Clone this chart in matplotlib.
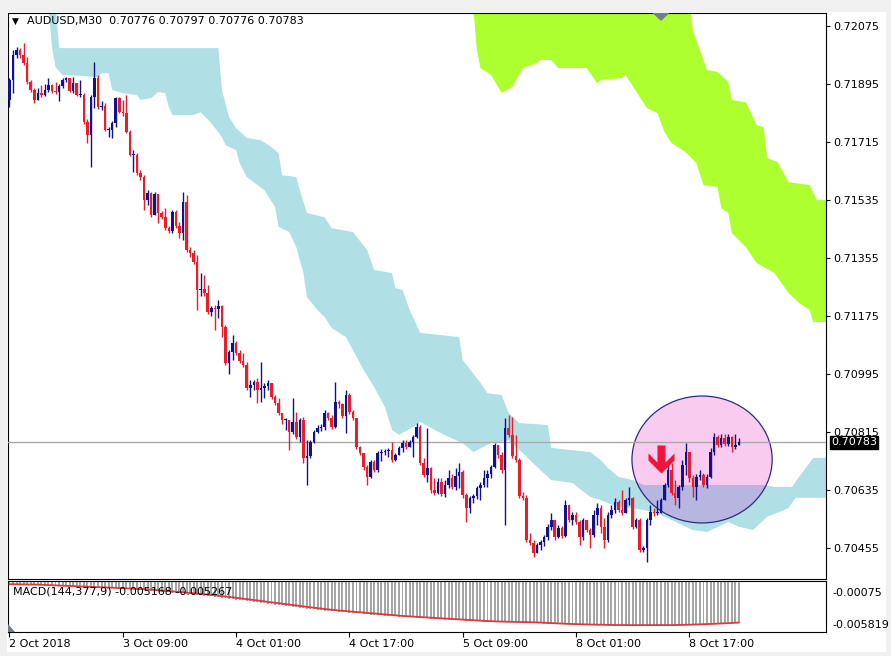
"""AUDUSD M30 chart: candles, two Ichimoku-style clouds, marked zone and MACD panel."""

import matplotlib

matplotlib.use("Agg")
import matplotlib.pyplot as plt
import matplotlib.transforms as mtransforms
import numpy as np
import pandas as pd
from matplotlib.patches import Ellipse, Polygon, Rectangle
from matplotlib.path import Path

SYMBOL_TITLE = "AUDUSD,M30  0.70776 0.70797 0.70776 0.70783"
MACD_TITLE = "MACD(144,377,9) -0.005168 -0.005267"

# candles, prices in points (1e-5); open of each bar = previous close
FIRST_OPEN_PTS = 71846
CLOSE_PTS = [
    71908, 71985, 72001, 71985, 71961, 71902, 71877, 71846, 71868, 71861,
    71877, 71892, 71874, 71871, 71889, 71908, 71914, 71874, 71899, 71861,
    71861, 71778, 71737, 71855, 71914, 71824, 71827, 71753, 71753, 71775,
    71852, 71809, 71806, 71747, 71674, 71674, 71619, 71606, 71535, 71557,
    71489, 71554, 71495, 71482, 71448, 71439, 71498, 71454, 71433, 71529,
    71380, 71371, 71343, 71256, 71259, 71247, 71188, 71200, 71197, 71206,
    71141, 71030, 71064, 71092, 71061, 71036, 71023, 70952, 70961, 70971,
    70946, 70952, 70958, 70968, 70924, 70906, 70875, 70853, 70853, 70816,
    70847, 70800, 70853, 70735, 70741, 70784, 70816, 70828, 70831, 70875,
    70859, 70831, 70909, 70903, 70865, 70930, 70878, 70859, 70769, 70750,
    70707, 70676, 70722, 70697, 70750, 70753, 70756, 70760, 70728, 70744,
    70766, 70781, 70769, 70784, 70800, 70831, 70719, 70682, 70704, 70635,
    70626, 70660, 70623, 70651, 70672, 70644, 70679, 70691, 70620, 70579,
    70610, 70616, 70641, 70651, 70672, 70685, 70707, 70775, 70744, 70697,
    70828, 70806, 70741, 70728, 70616, 70610, 70480, 70471, 70440, 70465,
    70474, 70489, 70520, 70542, 70489, 70517, 70492, 70589, 70542, 70558,
    70536, 70489, 70542, 70511, 70496, 70558, 70579, 70520, 70480, 70558,
    70573, 70598, 70573, 70564, 70604, 70610, 70520, 70542, 70449, 70455,
    70542, 70567, 70564, 70564, 70604, 70651, 70697, 70626, 70610, 70644,
    70713, 70753, 70672, 70644, 70676, 70682, 70651, 70676, 70753, 70800,
    70775, 70797, 70778, 70800, 70769, 70776, 70783,
]
HIGH_PTS = [
    71914, 72001, 72010, 72007, 72023, 71979, 71908, 71883, 71883, 71892,
    71896, 71914, 71896, 71902, 71896, 71914, 71917, 71911, 71917, 71899,
    71908, 71868, 71787, 71861, 71964, 71923, 71843, 71837, 71762, 71781,
    71855, 71855, 71846, 71861, 71753, 71690, 71681, 71628, 71612, 71566,
    71560, 71560, 71548, 71501, 71510, 71454, 71504, 71504, 71467, 71560,
    71551, 71389, 71380, 71364, 71309, 71302, 71271, 71206, 71209, 71225,
    71209, 71147, 71070, 71116, 71098, 71070, 71061, 71033, 70977, 70977,
    70983, 71033, 70968, 70977, 70968, 70930, 70921, 70859, 70859, 70853,
    70921, 70878, 70859, 70862, 70790, 70790, 70822, 70837, 70841, 70884,
    70878, 70868, 70971, 70915, 70906, 70946, 70937, 70884, 70859, 70772,
    70750, 70713, 70728, 70728, 70756, 70763, 70763, 70766, 70784, 70750,
    70772, 70790, 70790, 70790, 70806, 70844, 70837, 70735, 70828, 70707,
    70672, 70672, 70672, 70666, 70697, 70685, 70704, 70719, 70697, 70626,
    70616, 70623, 70648, 70660, 70697, 70697, 70713, 70781, 70775, 70753,
    70859, 70868, 70862, 70806, 70735, 70629, 70620, 70502, 70480, 70471,
    70480, 70496, 70530, 70564, 70542, 70527, 70523, 70604, 70589, 70567,
    70567, 70542, 70548, 70542, 70517, 70573, 70595, 70589, 70548, 70567,
    70589, 70610, 70604, 70635, 70610, 70644, 70613, 70548, 70548, 70461,
    70548, 70589, 70579, 70604, 70610, 70657, 70722, 70719, 70666, 70651,
    70728, 70781, 70753, 70682, 70685, 70697, 70688, 70685, 70766, 70812,
    70806, 70809, 70809, 70809, 70803, 70809, 70797,
]
LOW_PTS = [
    71824, 71868, 71976, 71976, 71954, 71896, 71871, 71837, 71846, 71855,
    71858, 71871, 71868, 71865, 71843, 71883, 71902, 71871, 71868, 71858,
    71855, 71772, 71713, 71637, 71821, 71818, 71815, 71750, 71731, 71728,
    71762, 71806, 71797, 71744, 71671, 71622, 71612, 71597, 71504, 71519,
    71482, 71510, 71464, 71476, 71442, 71433, 71433, 71448, 71417, 71411,
    71374, 71358, 71337, 71194, 71237, 71237, 71182, 71175, 71132, 71169,
    71110, 71023, 70996, 71039, 71054, 71030, 71017, 70946, 70924, 70946,
    70906, 70909, 70921, 70946, 70918, 70899, 70868, 70841, 70822, 70760,
    70810, 70794, 70784, 70719, 70651, 70735, 70781, 70813, 70819, 70822,
    70853, 70825, 70828, 70890, 70859, 70813, 70872, 70853, 70763, 70744,
    70697, 70651, 70672, 70691, 70691, 70725, 70744, 70738, 70722, 70725,
    70747, 70753, 70763, 70769, 70738, 70797, 70713, 70676, 70660, 70626,
    70620, 70623, 70616, 70613, 70641, 70638, 70635, 70641, 70610, 70536,
    70564, 70595, 70607, 70604, 70644, 70644, 70672, 70704, 70735, 70688,
    70527, 70800, 70735, 70722, 70610, 70604, 70474, 70465, 70427, 70440,
    70449, 70461, 70480, 70511, 70480, 70486, 70486, 70489, 70536, 70527,
    70530, 70465, 70480, 70505, 70455, 70489, 70527, 70502, 70455, 70474,
    70548, 70564, 70567, 70558, 70564, 70589, 70514, 70517, 70443, 70443,
    70412, 70527, 70555, 70558, 70567, 70610, 70644, 70620, 70589, 70579,
    70635, 70682, 70660, 70613, 70604, 70666, 70644, 70641, 70672, 70744,
    70769, 70769, 70772, 70772, 70753, 70763, 70776,
]

PRICE_TICKS = [0.72075, 0.71895, 0.71715, 0.71535, 0.71355,
               0.71175, 0.70995, 0.70815, 0.70635, 0.70455]
LAST_PRICE = 0.70783

TIME_BARS = [0, 32, 64, 96, 128, 160, 192]
TIME_LABELS = ["2 Oct 2018", "3 Oct 09:00", "4 Oct 01:00", "4 Oct 17:00",
               "5 Oct 09:00", "8 Oct 01:00", "8 Oct 17:00"]

# cloud outlines as (bar, points), the fast cloud (light blue)
BLUE_UPPER = [
    (11, 72150), (13, 72150), (14, 72007), (59, 72007), (60, 71877), (62, 71793),
    (64, 71759), (67, 71728), (71, 71721), (74, 71700), (76, 71681), (77, 71612),
    (81, 71607), (82, 71566), (84, 71495), (89, 71482), (91, 71448), (97, 71436),
    (101, 71380), (103, 71318), (108, 71309), (109, 71262), (111, 71256),
    (113, 71194), (116, 71123), (127, 71110), (128, 71039), (133, 70968),
    (135, 70936), (139, 70930), (141, 70874), (144, 70843), (152, 70837),
    (153, 70766), (164, 70753), (167, 70728), (169, 70704), (172, 70676),
    (176, 70666), (179, 70651), (213, 70651), (216, 70645), (221, 70645),
    (223, 70676), (227, 70735), (232, 70735),
]
BLUE_LOWER = [
    (11, 72140), (12, 72010), (13, 71948), (15, 71923), (17, 71923), (25, 71917),
    (26, 71929), (28, 71929), (29, 71877), (32, 71867), (36, 71861), (37, 71846),
    (40, 71852), (42, 71871), (44, 71867), (45, 71824), (46, 71799), (52, 71799),
    (54, 71808), (57, 71774), (60, 71731), (61, 71706), (64, 71690), (65, 71650),
    (67, 71607), (72, 71566), (75, 71514), (76, 71452), (79, 71436), (81, 71389),
    (83, 71309), (84, 71234), (87, 71194), (89, 71172), (91, 71138), (95, 71110),
    (97, 71070), (100, 71008), (103, 70955), (106, 70893), (108, 70822),
    (110, 70806), (114, 70831), (116, 70847), (120, 70822), (124, 70800),
    (128, 70781), (131, 70753), (136, 70781), (139, 70784), (141, 70790),
    (144, 70760), (149, 70707), (153, 70666), (159, 70657), (164, 70614),
    (167, 70604), (170, 70590), (173, 70583), (178, 70575), (182, 70567),
    (187, 70542), (193, 70511), (197, 70505), (203, 70536), (206, 70521),
    (210, 70511), (214, 70552), (220, 70579), (222, 70611), (225, 70611),
    (232, 70611),
]
# the slow cloud (yellow-green), mostly above the visible range
GREEN_UPPER = [
    (131, 72150), (192, 72150), (193, 72063), (197, 71939), (200, 71933),
    (203, 71902), (204, 71846), (208, 71839), (211, 71768), (213, 71762),
    (214, 71666), (217, 71653), (220, 71591), (226, 71582), (228, 71535),
    (232, 71535),
]
GREEN_LOWER = [
    (131, 72130), (132, 72001), (133, 71945), (136, 71924), (139, 71868),
    (142, 71886), (145, 71945), (149, 71961), (150, 71970), (153, 71970),
    (155, 71945), (163, 71945), (166, 71898), (167, 71908), (173, 71914),
    (174, 71924), (178, 71855), (180, 71821), (183, 71805), (185, 71746),
    (187, 71712), (191, 71684), (194, 71650), (196, 71582), (200, 71576),
    (201, 71511), (203, 71495), (204, 71433), (208, 71389), (211, 71340),
    (216, 71309), (220, 71247), (223, 71216), (226, 71194), (227, 71157),
    (232, 71157),
]

# MACD(144,377,9); EMA levels carried in from the history left of the first bar
MACD_FAST, MACD_SLOW, MACD_SIGNAL = 144, 377, 9
EMA_FAST_START = 0.72179
EMA_SLOW_START = 0.72254
MACD_SCALE = [-0.00075, -0.005819]
MACD_SCALE_TEXT = ["-0.00075", "-0.005819"]

# annotations drawn by the trader
ZONE_CENTER = (195.6, 0.70730)
ZONE_SIZE = (39.6, 0.00394)
ARROW_AT = (184, 0.70732)
SHIFT_BAR = 184

BULL = "#12128c"
BEAR = "#e81e2a"
CLOUD_BLUE = "#b0e0e6"
CLOUD_GREEN = "#adff2f"
ZONE_PINK = "#f9ccef"
ZONE_OVERLAP = "#b6b6e0"
ARROW_RED = "#f0143c"

FONT = 8

W, H = 891, 656


def compute_macd(close):
    a_fast = 2.0 / (MACD_FAST + 1)
    a_slow = 2.0 / (MACD_SLOW + 1)
    fast, slow = EMA_FAST_START, EMA_SLOW_START
    main = []
    for c in close:
        fast += a_fast * (c - fast)
        slow += a_slow * (c - slow)
        main.append(fast - slow)
    main = pd.Series(main)
    signal = main.rolling(MACD_SIGNAL, min_periods=1).mean()
    return main.values, signal.values


def cloud_polygon(upper, lower, **kw):
    verts = [(b, p / 1e5) for b, p in upper] + [(b, p / 1e5) for b, p in lower[::-1]]
    return Polygon(verts, closed=True, **kw)


close = np.array(CLOSE_PTS) / 1e5
opens = np.r_[FIRST_OPEN_PTS / 1e5, close[:-1]]
high = np.maximum(np.array(HIGH_PTS) / 1e5, np.maximum(opens, close))
low = np.minimum(np.array(LOW_PTS) / 1e5, np.minimum(opens, close))
bars = np.arange(len(close))
macd_main, macd_signal = compute_macd(close)

fig = plt.figure(figsize=(W / 100, H / 100), dpi=100, facecolor="#f0f0f0")
fig.patches.append(
    Rectangle((7 / W, 4 / H), 879 / W, 640 / H, transform=fig.transFigure,
              facecolor="white", edgecolor="none", zorder=-1)
)

ax = fig.add_axes([8 / W, 1 - 579 / H, 818 / W, 566 / H])
ax2 = fig.add_axes([8 / W, 1 - 632 / H, 818 / W, 51 / H])
for a in (ax, ax2):
    a.set_facecolor("white")
    for sp in a.spines.values():
        sp.set_linewidth(0.8)
        sp.set_color("black")
    a.set_xlim(-0.42, 230.6)

# price panel
ax.set_ylim(0.70359, 0.72116)

ax.add_patch(cloud_polygon(GREEN_UPPER, GREEN_LOWER, facecolor=CLOUD_GREEN,
                           edgecolor="none", zorder=1))
ax.add_patch(cloud_polygon(BLUE_UPPER, BLUE_LOWER, facecolor=CLOUD_BLUE,
                           edgecolor="none", zorder=1))

zone = Ellipse(ZONE_CENTER, ZONE_SIZE[0], ZONE_SIZE[1], facecolor=ZONE_PINK,
               edgecolor="none", zorder=2)
ax.add_patch(zone)
overlap = cloud_polygon(BLUE_UPPER, BLUE_LOWER, facecolor=ZONE_OVERLAP,
                        edgecolor="none", zorder=2.2)
ax.add_patch(overlap)
overlap.set_clip_path(zone)
ax.add_patch(Ellipse(ZONE_CENTER, ZONE_SIZE[0], ZONE_SIZE[1], fill=False,
                     edgecolor="#2c2c7c", linewidth=0.9, zorder=2.4))

ax.axhline(LAST_PRICE, color="#a9a9a9", linewidth=1.0, zorder=2.6)

colors = np.where(close >= opens, BULL, BEAR)
ax.vlines(bars, low, high, colors=colors, linewidth=1.0, zorder=4)
body_bottom = np.minimum(opens, close)
body_height = np.maximum(np.abs(close - opens), 0.00003)
ax.bar(bars, body_height, bottom=body_bottom, width=0.72, color=colors,
       edgecolor="none", zorder=5)

arrow_path = Path([(0, -14), (13, -1), (13, 6), (4, -3), (4, 14), (-4, 14),
                   (-4, -3), (-13, 6), (-13, -1), (0, -14)], closed=True)
ax.plot(*ARROW_AT, marker=arrow_path, markersize=20.2, color=ARROW_RED,
        markeredgewidth=0, linestyle="none", zorder=6)

top_trans = mtransforms.blended_transform_factory(ax.transData, ax.transAxes)
ax.add_patch(Polygon([(SHIFT_BAR - 2.4, 1.0), (SHIFT_BAR + 2.4, 1.0),
                      (SHIFT_BAR, 1.0 - 8 / 566)], closed=True,
                     transform=top_trans, facecolor="#6f7d8c",
                     edgecolor="none", zorder=7, clip_on=False))

ax.tick_params(axis="x", bottom=False, labelbottom=False)
ax.yaxis.tick_right()
ax.set_yticks(PRICE_TICKS, [f"{v:.5f}" for v in PRICE_TICKS])
ax.tick_params(axis="y", length=3, width=0.8, pad=2.2, labelsize=FONT,
               colors="black")

ax.annotate("▼", xy=(0, 1), xycoords="axes fraction", xytext=(4, -8),
            textcoords="offset pixels", fontsize=6.5, va="center", ha="left")
ax.annotate(SYMBOL_TITLE, xy=(0, 1), xycoords="axes fraction", xytext=(19, -8),
            textcoords="offset pixels", fontsize=FONT, va="center", ha="left")

ax.annotate(f"{LAST_PRICE:.5f}", xy=(1, LAST_PRICE),
            xycoords=("axes fraction", "data"), xytext=(5, 0),
            textcoords="offset pixels", fontsize=FONT, va="center", ha="left",
            color="white", annotation_clip=False, zorder=10,
            bbox={"boxstyle": "square,pad=0.12", "facecolor": "black",
                  "edgecolor": "black"})

# MACD panel
span = (MACD_SCALE[0] - MACD_SCALE[1]) / 44
ax2.set_ylim(MACD_SCALE[1] - 4 * span, MACD_SCALE[0] + 3 * span)
ax2.bar(bars, macd_main, width=0.55, color="#a6a6a6", edgecolor="none", zorder=2)
ax2.plot(bars, macd_signal, color="#e2363a", linewidth=1.3, zorder=3)
ax2.add_patch(Polygon([(0, 0), (0, 8 / 51), (7 / 818, 0)], closed=True,
                      transform=ax2.transAxes, facecolor="#6f7d8c",
                      edgecolor="none", zorder=4))
ax2.annotate(MACD_TITLE, xy=(0, 1), xycoords="axes fraction", xytext=(5, -11),
             textcoords="offset pixels", fontsize=FONT, va="center", ha="left")
for val, txt, dy in zip(MACD_SCALE, MACD_SCALE_TEXT, (-9, 3)):
    ax2.annotate(txt, xy=(1, val), xycoords=("axes fraction", "data"),
                 xytext=(6, dy), textcoords="offset pixels", fontsize=FONT,
                 va="center", ha="left", annotation_clip=False)
ax2.set_yticks([])
ax2.set_xticks(TIME_BARS, TIME_LABELS, ha="left")
ax2.tick_params(axis="x", length=3.6, width=0.8, pad=1.5, labelsize=FONT)

fig.savefig("out.png", dpi=100, facecolor=fig.get_facecolor())
